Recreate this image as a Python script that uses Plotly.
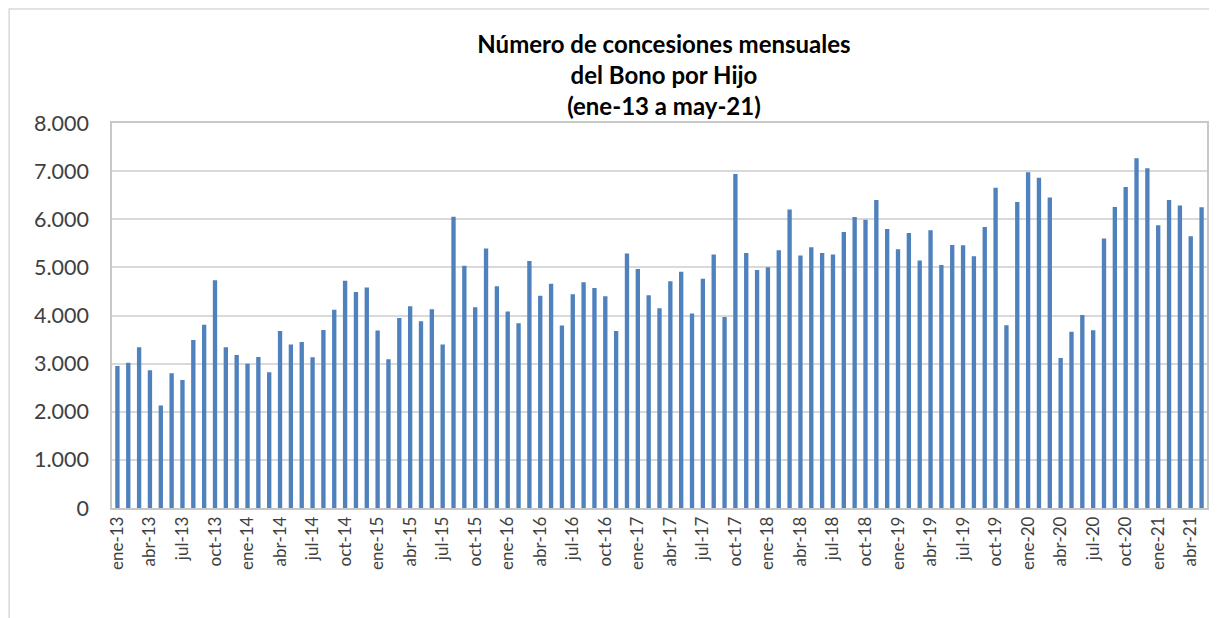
import plotly.graph_objects as go

months = ["ene", "feb", "mar", "abr", "may", "jun", "jul", "ago", "sep", "oct", "nov", "dic"]
categories = [f"{m}-{y}" for y in range(13, 22) for m in months][:101]  # ene-13 .. may-21

concesiones = [
    2950, 3020, 3340, 2860, 2130, 2800, 2660, 3490, 3810, 4730, 3340, 3180,
    3000, 3140, 2820, 3680, 3400, 3450, 3130, 3700, 4120, 4720, 4490, 4580,
    3690, 3090, 3950, 4190, 3880, 4130, 3400, 6050, 5035, 4170, 5390, 4610,
    4085, 3840, 5130, 4410, 4660, 3790, 4440, 4690, 4570, 4400, 3680, 5290,
    4965, 4420, 4150, 4710, 4910, 4040, 4765, 5270, 3970, 6940, 5300, 4945,
    5005, 5355, 6205, 5245, 5420, 5300, 5270, 5735, 6045, 5990, 6400, 5800,
    5375, 5715, 5145, 5770, 5050, 5465, 5460, 5230, 5840, 6655, 3800, 6360,
    6975, 6860, 6450, 3115, 3660, 4010, 3695, 5600, 6255, 6670, 7265, 7060,
    5875, 6400, 6285, 5645, 6250,
]

tick_labels = categories[::3]

title_text = "Número de concesiones mensuales<br>del Bono por Hijo<br>(ene-13 a may-21)"

fig = go.Figure(
    go.Bar(
        x=categories,
        y=concesiones,
        marker_color="#4f81bd",
        marker_line_width=0,
    )
)

# the page body adds an 8px margin, so the figure is sized to fit the window
W, H = 1209, 610
ml, mr, mt, mb = 104, 8, 115, 110
pw, ph = W - ml - mr, H - mt - mb

fig.update_layout(
    width=W,
    height=H,
    margin=dict(l=ml, r=mr, t=mt, b=mb),
    paper_bgcolor="white",
    plot_bgcolor="white",
    separators=",.",
    bargap=0.6,
    showlegend=False,
    font=dict(family="Lato, Carlito, sans-serif", color="#404040"),
    title=dict(
        text=title_text,
        x=(657 - ml) / pw,
        xref="paper",
        xanchor="center",
        y=1 - 45 / H,
        yanchor="middle",
        font=dict(family="Lato, Carlito, sans-serif", size=24, color="black", weight="bold"),
    ),
    xaxis=dict(
        type="category",
        tickvals=tick_labels,
        ticktext=tick_labels,
        tickangle=-90,
        tickfont=dict(size=17, color="#404040"),
        ticks="",
        showgrid=False,
        showline=True,
        linecolor="#c8c8c8",
        linewidth=1.5,
        mirror=True,
        range=[-0.5, len(categories) - 0.5],
    ),
    yaxis=dict(
        range=[0, 8000],
        dtick=1000,
        tickformat=",d",
        tickfont=dict(size=21.5, color="#404040"),
        showgrid=True,
        gridcolor="#d9d9d9",
        gridwidth=1.5,
        showline=True,
        linecolor="#c8c8c8",
        linewidth=1.5,
        mirror=True,
        ticks="",
        ticklabelstandoff=17,
        zeroline=False,
    ),
)

# outer chart frame (Excel chart area border)
fig.add_shape(
    type="rect",
    xref="paper",
    yref="paper",
    x0=(1 - ml) / pw,
    x1=(W + 20 - ml) / pw,
    y0=-(mb + 30) / ph,
    y1=1 + (mt - 1) / ph,
    line=dict(color="#d9d9d9", width=1.5),
    fillcolor="rgba(0,0,0,0)",
    layer="below",
)

fig.write_html("out.html")
